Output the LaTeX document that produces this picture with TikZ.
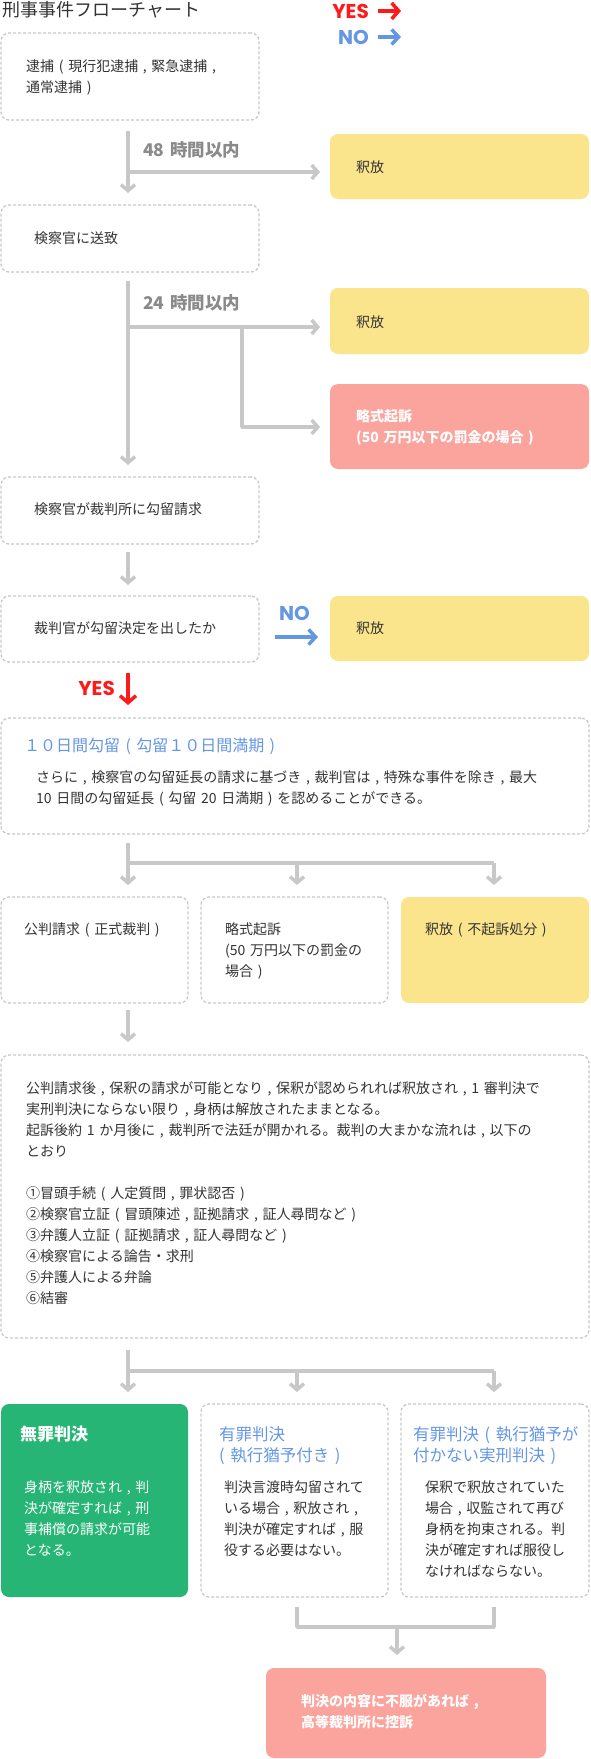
\documentclass[tikz,border=0pt]{standalone}
\usepackage{fontspec}
\setmainfont{Noto Sans CJK JP}
\newfontfamily\yesnofont{Poppins}
\usetikzlibrary{arrows.meta,calc}
\definecolor{LineClr}{HTML}{C8C8C8}
\definecolor{TextClr}{HTML}{333333}
\definecolor{HourClr}{HTML}{8A8A8A}
\definecolor{YellowClr}{HTML}{FAE48C}
\definecolor{PinkClr}{HTML}{FBA49E}
\definecolor{GreenClr}{HTML}{26B574}
\definecolor{BlueClr}{HTML}{6496E6}
\definecolor{RedClr}{HTML}{FF1A1A}

\begin{document}
\begin{tikzpicture}[x=1pt,y=-1pt,
  box/.style={rounded corners=8pt,anchor=north west,inner sep=0pt,outer sep=0pt},
  dbox/.style={box,draw=LineClr,line width=1.3pt,dash pattern=on 3pt off 2pt},
  ybox/.style={box,fill=YellowClr},
  pbox/.style={box,fill=PinkClr},
  gbox/.style={box,fill=GreenClr},
  txt/.style={anchor=base west,inner sep=0pt,text width=540pt,align=left,text=TextClr,font=\fontsize{14}{21}\selectfont},
  wtxt/.style={txt,text=white,font=\fontsize{14}{21}\selectfont\bfseries},
  ttl/.style={txt,text=BlueClr,font=\fontsize{16.5}{21}\selectfont},
  hrs/.style={txt,text=HourClr,font=\fontsize{17.5}{21}\selectfont\bfseries},
  yn/.style={inner sep=0pt,font=\yesnofont\fontsize{20}{24}\selectfont\bfseries},
  link/.style={draw=LineClr,line width=3.5pt,line join=round},
  flow/.style={link,-{Straight Barb[length=6pt,width=14pt]}},
  yesarr/.style={draw=RedClr,line width=3.5pt,-{Straight Barb[length=7pt,width=16pt]}},
  noarr/.style={draw=BlueClr,line width=3.5pt,-{Straight Barb[length=7pt,width=15pt]}}]
\useasboundingbox (0,0) rectangle (591,1759);

\coordinate (p1) at (128,131); \coordinate (p2) at (128,193);
\coordinate (p3) at (128,172); \coordinate (p4) at (320,172);
\coordinate (q1) at (128,281); \coordinate (q2) at (128,465);
\coordinate (q3) at (128,327); \coordinate (q4) at (320,327);
\coordinate (q5) at (242,327); \coordinate (q6) at (242,427); \coordinate (q7) at (320,427);
\coordinate (r1) at (128,552); \coordinate (r2) at (128,585);
\coordinate (n1) at (275,637); \coordinate (n2) at (318,637);
\coordinate (y1) at (128,673); \coordinate (y2) at (128,705);
\coordinate (s1) at (128,843); \coordinate (s2) at (128,863); \coordinate (s3) at (494,863);
\coordinate (t1) at (128,1010); \coordinate (t2) at (128,1042);
\coordinate (u1) at (128,1350); \coordinate (u2) at (128,1371); \coordinate (u3) at (494,1371);
\coordinate (v1) at (297,1607); \coordinate (v2) at (297,1627);
\coordinate (v3) at (494,1627); \coordinate (v4) at (494,1607);
\coordinate (v5) at (397,1627); \coordinate (v6) at (397,1655);

\node[txt,font=\fontsize{18}{22}\selectfont] (title) at (2,16) {刑事事件フローチャート};
\node[yn,text=RedClr,anchor=base east] (yes) at (369,18) {YES};
\node[yn,text=BlueClr,anchor=base east] (no) at (369,44) {NO};

\node[dbox,minimum width=258,minimum height=87] (arrest) at (1,33) {};
\node[ybox,minimum width=259,minimum height=65] (rel1) at (330,134) {};
\node[dbox,minimum width=258,minimum height=67] (send) at (1,205) {};
\node[ybox,minimum width=259,minimum height=66] (rel2) at (330,288) {};
\node[pbox,minimum width=259,minimum height=85] (summ) at (330,384) {};
\node[dbox,minimum width=258,minimum height=67] (req) at (1,477) {};
\node[dbox,minimum width=258,minimum height=66] (dec) at (1,596) {};
\node[ybox,minimum width=259,minimum height=65] (rel3) at (330,596) {};
\node[dbox,minimum width=588,minimum height=116] (det) at (1,718) {};
\node[dbox,minimum width=187,minimum height=106] (trial) at (1,897) {};
\node[dbox,minimum width=187,minimum height=106] (summ2) at (201,897) {};
\node[ybox,minimum width=188,minimum height=106] (rel4) at (401,897) {};
\node[dbox,minimum width=588,minimum height=283] (court) at (1,1055) {};
\node[gbox,minimum width=187,minimum height=193] (acq) at (1,1404) {};
\node[dbox,minimum width=187,minimum height=193] (susp) at (201,1404) {};
\node[dbox,minimum width=188,minimum height=193] (guilty) at (401,1404) {};
\node[pbox,minimum width=280,minimum height=90] (appeal) at (266,1668) {};

\node[txt] (arrestT) at ($(arrest.north west)+(25,38)$) {逮捕 ( 現行犯逮捕 , 緊急逮捕 ,\\通常逮捕 )};
\node[txt] (rel1T) at ($(rel1.north west)+(26,38)$) {釈放};
\node[txt] (sendT) at ($(send.north west)+(33,38)$) {検察官に送致};
\node[txt] (rel2T) at ($(rel2.north west)+(26,39)$) {釈放};
\node[wtxt] (summT) at ($(summ.north west)+(26,37)$) {略式起訴\\(50 万円以下の罰金の場合 )};
\node[txt] (reqT) at ($(req.north west)+(33,37)$) {検察官が裁判所に勾留請求};
\node[txt] (decT) at ($(dec.north west)+(33,37)$) {裁判官が勾留決定を出したか};
\node[txt] (rel3T) at ($(rel3.north west)+(26,37)$) {釈放};
\node[ttl,font=\fontsize{16}{21}\selectfont] (detH) at ($(det.north west)+(23,33)$) {１０日間勾留 ( 勾留１０日間満期 )};
\node[txt] (detT) at ($(det.north west)+(35,64)$) {さらに , 検察官の勾留延長の請求に基づき , 裁判官は , 特殊な事件を除き , 最大\\10 日間の勾留延長 ( 勾留 20 日満期 ) を認めることができる。};
\node[txt] (trialT) at ($(trial.north west)+(23,37)$) {公判請求 ( 正式裁判 )};
\node[txt] (summ2T) at ($(summ2.north west)+(24,37)$) {略式起訴\\(50 万円以下の罰金の\\場合 )};
\node[txt] (rel4T) at ($(rel4.north west)+(24,37)$) {釈放 ( 不起訴処分 )};
\node[txt] (courtT) at ($(court.north west)+(25,38)$) {公判請求後 , 保釈の請求が可能となり , 保釈が認められれば釈放され , 1 審判決で\\実刑判決にならない限り , 身柄は解放されたままとなる。\\起訴後約 1 か月後に , 裁判所で法廷が開かれる。裁判の大まかな流れは , 以下の\\とおり\\[21pt]①冒頭手続 ( 人定質問 , 罪状認否 )\\②検察官立証 ( 冒頭陳述 , 証拠請求 , 証人尋問など )\\③弁護人立証 ( 証拠請求 , 証人尋問など )\\④検察官による論告・求刑\\⑤弁護人による弁論\\⑥結審};
\node[txt,text=white,font=\fontsize{17}{21}\selectfont\bfseries] (acqH) at ($(acq.north west)+(19,36)$) {無罪判決};
\node[txt,text=white] (acqT) at ($(acq.north west)+(23,88)$) {身柄を釈放され , 判\\決が確定すれば , 刑\\事補償の請求が可能\\となる。};
\node[ttl] (suspH) at ($(susp.north west)+(18,36)$) {有罪判決\\( 執行猶予付き )};
\node[txt] (suspT) at ($(susp.north west)+(23,88)$) {判決言渡時勾留されて\\いる場合 , 釈放され ,\\判決が確定すれば , 服\\役する必要はない。};
\node[ttl] (guiltyH) at ($(guilty.north west)+(12,36)$) {有罪判決 ( 執行猶予が\\付かない実刑判決 )};
\node[txt] (guiltyT) at ($(guilty.north west)+(24,88)$) {保釈で釈放されていた\\場合 , 収監されて再び\\身柄を拘束される。判\\決が確定すれば服役し\\なければならない。};
\node[wtxt] (appealT) at ($(appeal.north west)+(35,38)$) {判決の内容に不服があれば ,\\高等裁判所に控訴};

\node[hrs] (h48) at (143,156.5) {48 時間以内};
\node[hrs] (h24) at (143,309.5) {24 時間以内};

\draw[yesarr] ([xshift=9pt]yes.east) -- ++(23,0);
\draw[noarr] ([xshift=9pt]no.east) -- ++(23,0);

\draw[flow] (p1) -- (p2);
\draw[flow] (p3) -- (p4);
\draw[flow] (q1) -- (q2);
\draw[flow] (q3) -- (q4);
\draw[flow] (q5) -- (q6) -- (q7);
\draw[flow] (r1) -- (r2);
\draw[noarr] (n1) -- (n2);
\node[yn,text=BlueClr,anchor=base west] (noD) at (279,620) {NO};
\draw[yesarr] (y1) -- (y2);
\node[yn,text=RedClr,anchor=base east] (yesD) at (115,695) {YES};

\draw[link] (s1) -- (s2) -- (s3);
\foreach \dx in {128,297,494} \draw[flow] (\dx,863) -- (\dx,885);
\draw[flow] (t1) -- (t2);
\draw[link] (u1) -- (u2) -- (u3);
\foreach \dx in {128,297,494} \draw[flow] (\dx,1371) -- (\dx,1392);
\draw[link] (v1) -- (v2) -- (v3) -- (v4);
\draw[flow] (v5) -- (v6);

\end{tikzpicture}
\end{document}
